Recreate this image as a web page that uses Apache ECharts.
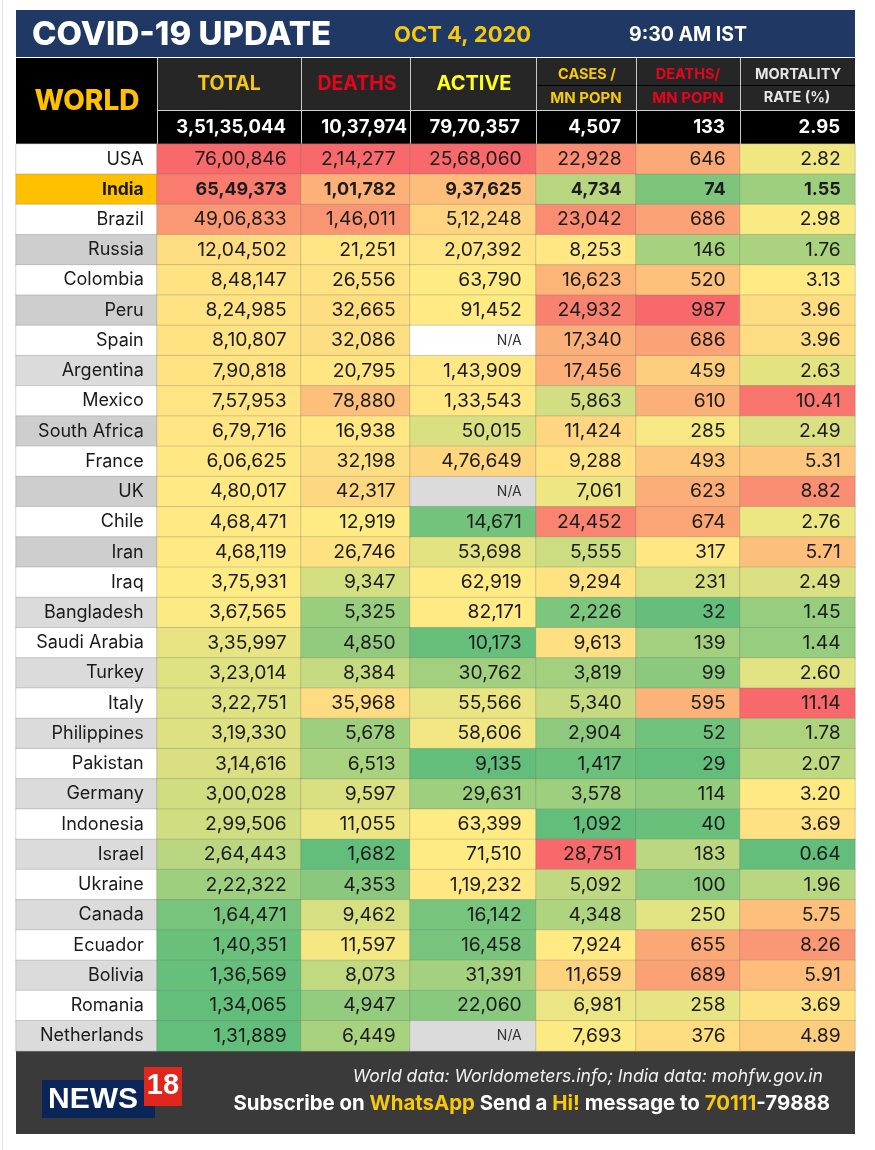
<!DOCTYPE html>
<html>
<head>
<meta charset="utf-8">
<title>COVID-19 UPDATE</title>
<style>
html, body { margin: 0; padding: 0; background: #fff; }
#chart { width: 875px; height: 1150px; }
</style>
<script src="https://cdn.jsdelivr.net/npm/echarts@6/dist/echarts.min.js"></script>
</head>
<body>
<div id="chart"></div>
<script>
//表格数据
var countries = ['USA', 'India', 'Brazil', 'Russia', 'Colombia', 'Peru', 'Spain', 'Argentina', 'Mexico', 'South Africa', 'France', 'UK', 'Chile', 'Iran', 'Iraq', 'Bangladesh', 'Saudi Arabia', 'Turkey', 'Italy', 'Philippines', 'Pakistan', 'Germany', 'Indonesia', 'Israel', 'Ukraine', 'Canada', 'Ecuador', 'Bolivia', 'Romania', 'Netherlands'];
var totalCases = [7600846, 6549373, 4906833, 1204502, 848147, 824985, 810807, 790818, 757953, 679716, 606625, 480017, 468471, 468119, 375931, 367565, 335997, 323014, 322751, 319330, 314616, 300028, 299506, 264443, 222322, 164471, 140351, 136569, 134065, 131889];
var deaths = [214277, 101782, 146011, 21251, 26556, 32665, 32086, 20795, 78880, 16938, 32198, 42317, 12919, 26746, 9347, 5325, 4850, 8384, 35968, 5678, 6513, 9597, 11055, 1682, 4353, 9462, 11597, 8073, 4947, 6449];
var active = [2568060, 937625, 512248, 207392, 63790, 91452, null, 143909, 133543, 50015, 476649, null, 14671, 53698, 62919, 82171, 10173, 30762, 55566, 58606, 9135, 29631, 63399, 71510, 119232, 16142, 16458, 31391, 22060, null];
var casesPerMn = [22928, 4734, 23042, 8253, 16623, 24932, 17340, 17456, 5863, 11424, 9288, 7061, 24452, 5555, 9294, 2226, 9613, 3819, 5340, 2904, 1417, 3578, 1092, 28751, 5092, 4348, 7924, 11659, 6981, 7693];
var deathsPerMn = [646, 74, 686, 146, 520, 987, 686, 459, 610, 285, 493, 623, 674, 317, 231, 32, 139, 99, 595, 52, 29, 114, 40, 183, 100, 250, 655, 689, 258, 376];
var mortality = [2.82, 1.55, 2.98, 1.76, 3.13, 3.96, 3.96, 2.63, 10.41, 2.49, 5.31, 8.82, 2.76, 5.71, 2.49, 1.45, 1.44, 2.60, 11.14, 1.78, 2.07, 3.20, 3.69, 0.64, 1.96, 5.75, 8.26, 5.91, 3.69, 4.89];
var worldTotals = ['3,51,35,044', '10,37,974', '79,70,357', '4,507', '133', '2.95'];

//版面
var FONT = 'Inter';
var edges = [16, 157, 301, 410, 536, 636, 740, 855];
var totalRight = [286, 407, 520, 621, 725, 840];
var rowsTop = 144, rowsHeight = 907;
var columns = [totalCases, deaths, active, casesPerMn, deathsPerMn, mortality];

//印度式千分位
function fmt(v, colIndex) {
    if (colIndex === 5) return v.toFixed(2);
    return String(v).replace(/(\d)(?=(\d\d)*\d{3}$)/g, '$1,');
}

function bandColor(i) {
    if (i === 1) return '#FFC000';
    if (!(i % 2)) return '#FFFFFF';
    return (i === 7 || i >= 15) ? '#DBDBDB' : '#CECECE';
}

function mix(a, b, t) {
    return 'rgb(' + a.map(function (c, k) {
        return Math.round(c + (b[k] - c) * t);
    }).join(',') + ')';
}

//三色阶: 最小绿, 中位黄, 最大红
function scaleFor(values) {
    var s = values.filter(function (v) { return v !== null; }).sort(function (a, b) { return a - b; });
    var p = (s.length - 1) / 2;
    var mid = (s[Math.floor(p)] + s[Math.ceil(p)]) / 2;
    var lo = s[0], hi = s[s.length - 1];
    var green = [99, 190, 123], yellow = [255, 235, 132], red = [248, 105, 107];
    return function (v) {
        return v <= mid ? mix(green, yellow, (v - lo) / (mid - lo)) : mix(yellow, red, (v - mid) / (hi - mid));
    };
}

var grids = [], xAxes = [], yAxes = [], series = [];

function addColumn(k, data) {
    grids.push({ left: edges[k], width: edges[k + 1] - edges[k], top: rowsTop, height: rowsHeight });
    xAxes.push({ type: 'category', gridIndex: k, data: [''], show: false });
    yAxes.push({ type: 'category', gridIndex: k, data: countries, inverse: true, show: false });
    series.push({
        type: 'heatmap',
        xAxisIndex: k,
        yAxisIndex: k,
        data: data,
        silent: true,
        itemStyle: { borderColor: 'rgba(110,110,110,0.28)', borderWidth: 1 },
        label: {
            show: true,
            position: 'insideRight',
            distance: 15,
            fontFamily: FONT,
            fontSize: 19.3,
            color: '#1c1c1c'
        }
    });
}

addColumn(0, countries.map(function (name, i) {
    return {
        value: [0, i, 0],
        itemStyle: { color: bandColor(i) },
        label: {
            formatter: name,
            fontSize: i === 1 ? 17.5 : 18,
            fontWeight: i === 1 ? 700 : 400,
            distance: 14,
            color: '#1a1a1a'
        }
    };
}));

columns.forEach(function (values, c) {
    var colorOf = scaleFor(values);
    addColumn(c + 1, values.map(function (v, i) {
        var isNa = v === null;
        return {
            value: [0, i, isNa ? 0 : v],
            itemStyle: { color: isNa ? (i % 2 ? '#DBDBDB' : '#FFFFFF') : colorOf(v) },
            label: {
                formatter: isNa ? 'N/A' : fmt(v, c),
                fontSize: isNa ? 14 : (i === 1 ? 18 : 19.3),
                fontWeight: i === 1 ? 700 : 400,
                color: isNa ? '#333' : '#1c1c1c'
            }
        };
    }));
});

function rect(x, y, w, h, fill) {
    return { type: 'rect', shape: { x: x, y: y, width: w, height: h }, style: { fill: fill }, silent: true };
}

function text(str, x, y, size, fill, align, weight, extra) {
    var style = {
        text: str, x: x, y: y, fontFamily: FONT, fontSize: size, fontWeight: weight || 700,
        fill: fill, align: align || 'center', verticalAlign: 'middle'
    };
    for (var k in extra) style[k] = extra[k];
    return { type: 'text', style: style, silent: true };
}

var YEL = '#F6C90E', RED = '#E8041C';
var graphics = [
    rect(2, 0, 1, 1150, '#E2E2E2'),
    //顶部
    rect(16, 10, 839, 47, '#1F3864'),
    text('COVID-19 UPDATE', 32, 35, 33, '#FFFFFF', 'left', 800),
    text('OCT 4, 2020', 394, 35, 22, YEL, 'left', 700),
    text('9:30 AM IST', 629, 35, 19.5, '#FFFFFF', 'left', 700),
    //表头
    rect(16, 58, 141, 86, '#000000'),
    rect(157, 58, 698, 52, '#262626'),
    rect(157, 111, 698, 33, '#000000'),
    rect(536, 85, 319, 1, '#000000'),
    text('WORLD', 87, 102, 28, '#FFC000', 'center', 800),
    text('TOTAL', 229, 84, 19.5, YEL),
    text('DEATHS', 357, 84, 19.5, RED),
    text('ACTIVE', 474, 84, 20, '#FFFF1A'),
    text('CASES /', 587, 75, 14.5, YEL),
    text('MN POPN', 586, 98, 15, YEL),
    text('DEATHS/', 688, 75, 14.5, RED),
    text('MN POPN', 688, 98, 15, RED),
    text('MORTALITY', 798, 75, 14.5, '#E6E6E6'),
    text('RATE (%)', 797, 98, 14.5, '#E6E6E6'),
    //底部
    rect(16, 1051, 839, 83, '#3A3A3A'),
    rect(42, 1080, 113, 38, '#0B2559'),
    rect(144, 1067, 38, 39, '#E1261C'),
    text('NEWS', 48, 1100, 30, '#FFFFFF', 'left', 700, { fontFamily: 'Liberation Sans' }),
    text('18', 163, 1086, 29, '#FFFFFF', 'center', 700, { fontFamily: 'Liberation Sans' }),
    text('World data: Worldometers.info; India data: mohfw.gov.in', 823, 1077, 17.6, '#F2F2F2', 'right', 400, { fontStyle: 'italic' }),
    text('{w|Subscribe on }{y|WhatsApp}{w| Send a }{y|Hi!}{w| message to }{y|70111}{w|-79888}', 830, 1104, 20, '#FFFFFF', 'right', 700, {
        rich: {
            w: { fill: '#FFFFFF', fontFamily: FONT, fontSize: 20.4, fontWeight: 700 },
            y: { fill: YEL, fontFamily: FONT, fontSize: 20.4, fontWeight: 700 }
        }
    })
];

//表头分隔线与世界合计
for (var i = 1; i < edges.length - 1; i++) {
    graphics.push(rect(edges[i], 58, 1, 86, '#C8C8C8'));
}
graphics.push(rect(157, 110, 698, 1, '#D0D0D0'));
worldTotals.forEach(function (t, c) {
    graphics.push(text(t, totalRight[c], 127, 18.5, '#FFFFFF', 'right', 700));
});

var chart = echarts.init(document.getElementById('chart'), null, { renderer: 'canvas' });
chart.setOption({
    animation: false,
    backgroundColor: '#FFFFFF',
    grid: grids,
    xAxis: xAxes,
    yAxis: yAxes,
    series: series,
    graphic: { elements: graphics }
});
</script>
</body>
</html>
